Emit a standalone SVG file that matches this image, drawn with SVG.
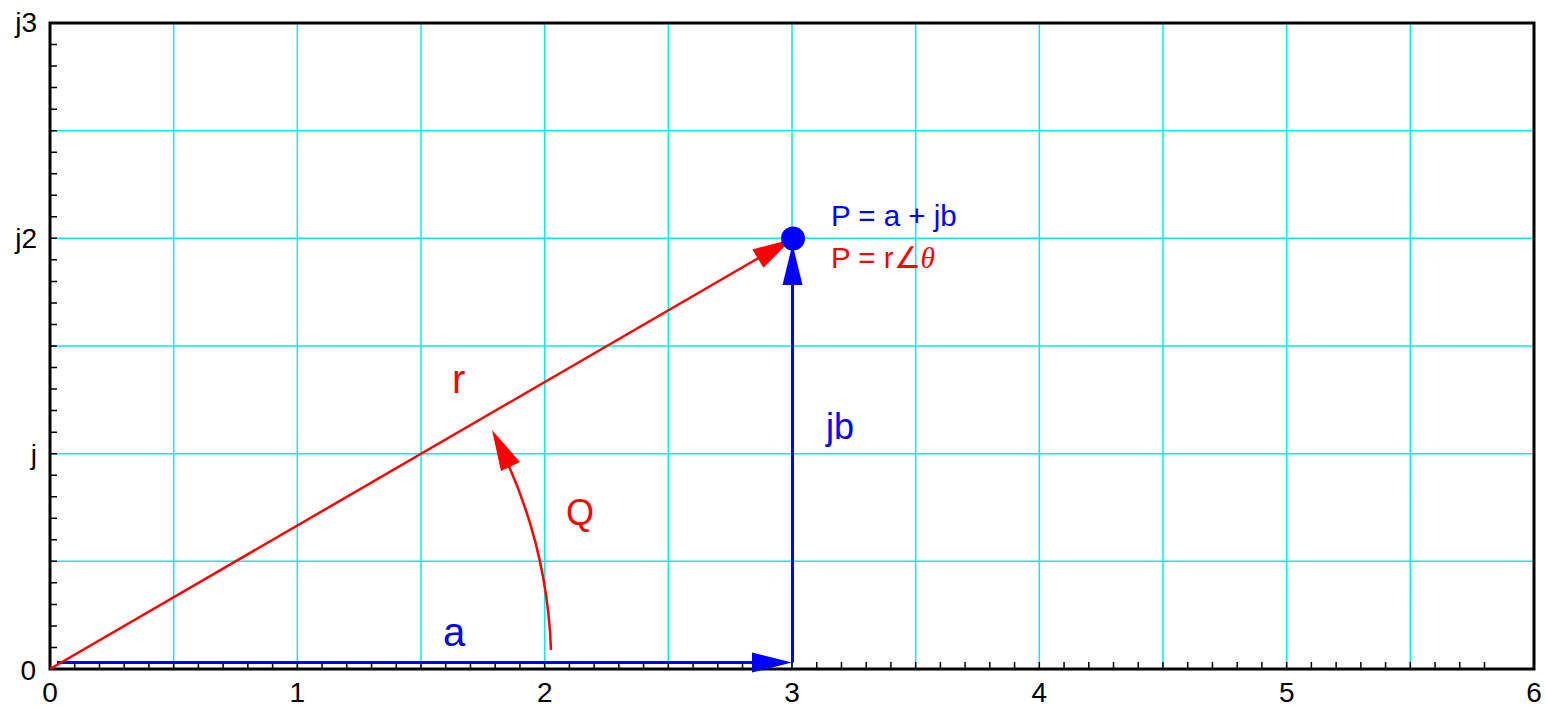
<svg xmlns="http://www.w3.org/2000/svg" width="1545" height="706" viewBox="0 0 1545 706">
<style>
text{font-family:"Liberation Sans",Arial,sans-serif}
.ax{font-size:28px;fill:#000}
.grid{stroke:#00EEEE;stroke-width:1.5;fill:none}
.tick{stroke:#000;stroke-width:1.5;fill:none}
.blue{stroke:#0000FF;stroke-width:3;fill:none}
.red{stroke:#FF0000;stroke-width:2.5;fill:none}
</style>
<rect width="1545" height="706" fill="#fff"/>
<g id="grid" class="grid">
<path d="M173.67 23V669M297.33 23V669M421 23V669M544.67 23V669M668.33 23V669M792 23V669M915.67 23V669M1039.33 23V669M1163 23V669M1286.67 23V669M1410.33 23V669"/>
<path d="M50 561.33H1534M50 453.67H1534M50 346H1534M50 238.33H1534M50 130.67H1534"/>
</g>
<g id="ticks" class="tick">
<path d="M74.733 669v-7m24.733 7v-7m24.733 7v-7m24.733 7v-7m24.733 7v-7m24.733 7v-7m24.733 7v-7m24.733 7v-7m24.733 7v-7m24.733 7v-7m24.733 7v-7m24.733 7v-7m24.733 7v-7m24.733 7v-7m24.733 7v-7m24.733 7v-7m24.733 7v-7m24.733 7v-7m24.733 7v-7m24.733 7v-7m24.733 7v-7m24.733 7v-7m24.733 7v-7m24.733 7v-7m24.733 7v-7m24.733 7v-7m24.733 7v-7m24.733 7v-7m24.733 7v-7m24.733 7v-7m24.733 7v-7m24.733 7v-7m24.733 7v-7m24.733 7v-7m24.733 7v-7m24.733 7v-7m24.733 7v-7m24.733 7v-7m24.733 7v-7m24.733 7v-7m24.733 7v-7m24.733 7v-7m24.733 7v-7m24.733 7v-7m24.733 7v-7m24.733 7v-7m24.733 7v-7m24.733 7v-7m24.733 7v-7m24.733 7v-7m24.733 7v-7m24.733 7v-7m24.733 7v-7m24.733 7v-7m24.733 7v-7m24.733 7v-7m24.733 7v-7m24.733 7v-7"/>
<path d="M50 647.467h7m-7 -21.533h7m-7 -21.533h7m-7 -21.533h7m-7 -21.533h7m-7 -21.533h7m-7 -21.533h7m-7 -21.533h7m-7 -21.533h7m-7 -21.533h7m-7 -21.533h7m-7 -21.533h7m-7 -21.533h7m-7 -21.533h7m-7 -21.533h7m-7 -21.533h7m-7 -21.533h7m-7 -21.533h7m-7 -21.533h7m-7 -21.533h7m-7 -21.533h7m-7 -21.533h7m-7 -21.533h7m-7 -21.533h7m-7 -21.533h7m-7 -21.533h7m-7 -21.533h7m-7 -21.533h7m-7 -21.533h7"/>
</g>
<rect id="frame" x="50" y="23" width="1484" height="646" fill="none" stroke="#000" stroke-width="3"/>
<g id="axis-labels" class="ax">
<text x="37" y="32" text-anchor="end">j3</text>
<text x="37" y="248" text-anchor="end">j2</text>
<text x="37" y="464" text-anchor="end">j</text>
<text x="36" y="680" text-anchor="end">0</text>
<text x="50" y="702" text-anchor="middle">0</text>
<text x="297.33" y="702" text-anchor="middle">1</text>
<text x="544.67" y="702" text-anchor="middle">2</text>
<text x="792" y="702" text-anchor="middle">3</text>
<text x="1039.33" y="702" text-anchor="middle">4</text>
<text x="1286.67" y="702" text-anchor="middle">5</text>
<text x="1534" y="702" text-anchor="middle">6</text>
</g>
<g id="connectors">
<g id="vec-a">
<path class="blue" d="M57 662.5H760"/>
<polygon points="792,662.5 752,652.5 752,672.5" fill="#0000FF"/>
</g>
<g id="vec-jb">
<path class="blue" d="M792.5 662.5V280"/>
<polygon points="792.5,244 782.5,285 802.5,285" fill="#0000FF"/>
</g>
<g id="vec-r">
<path class="red" d="M50 669L762 256"/>
<polygon points="792,239 752.4,249.4 763.4,267.8" fill="#FF0000"/>
</g>
<g id="angle-arc">
<path class="red" d="M551 650A502 502 0 0 0 508 464"/>
<polygon points="492,430 501,471 520,462" fill="#FF0000"/>
</g>
</g>
<g id="point-P">
<circle cx="793" cy="238.5" r="12" fill="#0000FF"/>
</g>
<g id="label-P-rect"><text x="831" y="226" font-size="29.5" fill="#0000FF">P = a + jb</text></g>
<g id="label-P-polar"><text x="831" y="268" font-size="29.5" fill="#FF0000">P = r∠<tspan font-family="Liberation Serif" font-style="italic">θ</tspan></text></g>
<g id="label-r"><text x="452" y="393" font-size="40" fill="#FF0000">r</text></g>
<g id="label-a"><text x="443" y="646" font-size="40" fill="#0000FF">a</text></g>
<g id="label-jb"><text x="826" y="439" font-size="36" fill="#0000FF">jb</text></g>
<g id="label-Q"><text x="566" y="525" font-size="36" fill="#FF0000">Q</text></g>
</svg>
